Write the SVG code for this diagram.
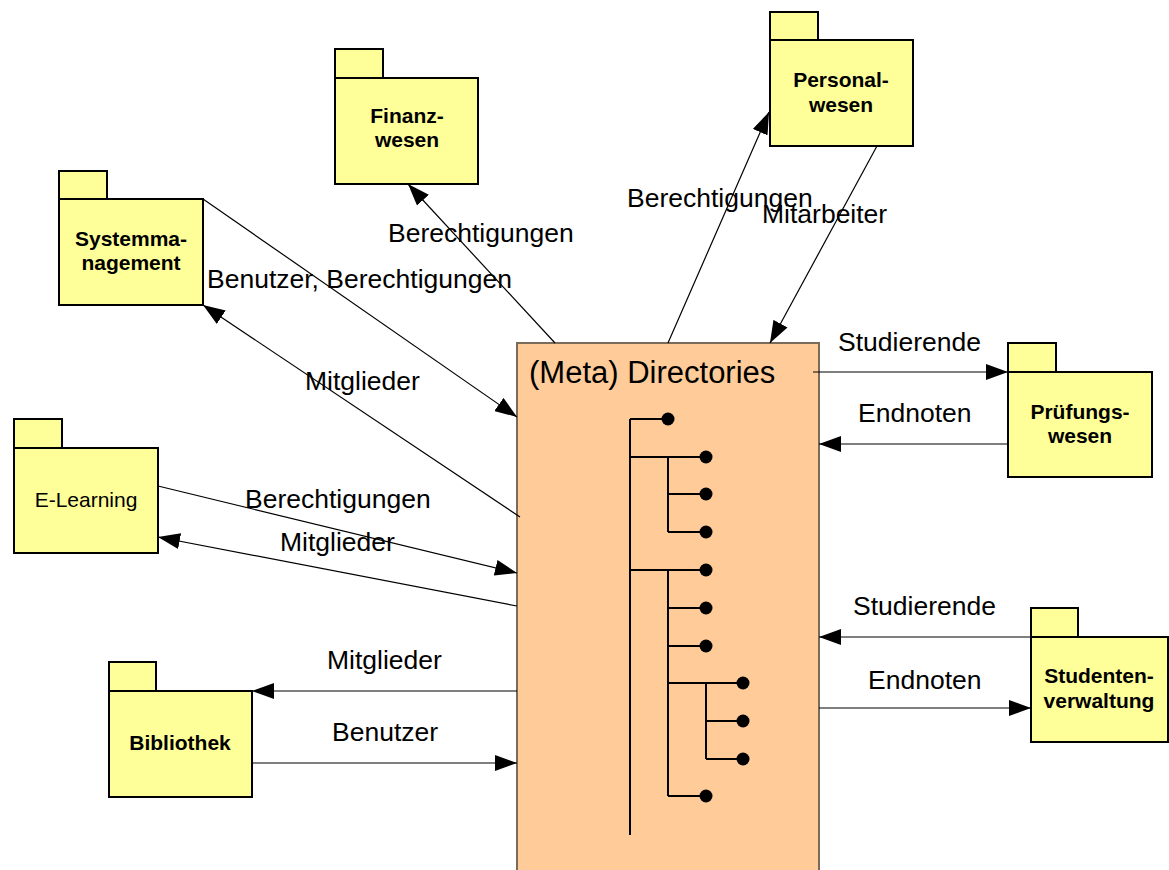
<svg xmlns="http://www.w3.org/2000/svg" width="1169" height="870" viewBox="0 0 1169 870">
  <style>
    .pkg rect { fill: #FFFF99; stroke: #000; stroke-width: 2; }
    .pkgname { font-family: "Liberation Sans", Arial, sans-serif; font-size: 21px; font-weight: bold; text-anchor: middle; fill: #000; }
    .pkgplain { font-family: "Liberation Sans", Arial, sans-serif; font-size: 21px; text-anchor: middle; fill: #000; }
    .flow { stroke: #000; stroke-width: 1.2; fill: none; marker-end: url(#arrow); }
    .lbl { font-family: "Liberation Sans", Arial, sans-serif; font-size: 26.5px; fill: #000; }
    .tree { stroke: #000; stroke-width: 2; fill: none; }
    .leaf { fill: #000; }
  </style>
  <defs>
    <marker id="arrow" viewBox="0 0 22 16" refX="22" refY="8" markerWidth="22" markerHeight="16" markerUnits="userSpaceOnUse" orient="auto">
      <path d="M0,0 L22,8 L0,16 z" fill="#000"/>
    </marker>
  </defs>
  <rect width="1169" height="870" fill="#fff"/>

  <!-- central directory service -->
  <g id="meta-directories">
    <rect x="517" y="343" width="302" height="540" fill="#FFCC99" stroke="#7a6a5a" stroke-width="2"/>
    <text x="529" y="383" font-family="Liberation Sans, Arial, sans-serif" font-size="31" fill="#000">(Meta) Directories</text>
    <g id="directory-tree">
      <path class="tree" d="M630,419 V835 M630,419 H668 M630,457 H706 M668,457 V532 M668,494 H706 M668,532 H706 M630,570 H706 M668,570 V796 M668,608 H706 M668,646 H706 M668,683 H743 M706,683 V759 M706,721 H743 M706,759 H743 M668,796 H706"/>
      <circle class="leaf" cx="668" cy="419" r="6.5"/>
      <circle class="leaf" cx="706" cy="457" r="6.5"/>
      <circle class="leaf" cx="706" cy="494" r="6.5"/>
      <circle class="leaf" cx="706" cy="532" r="6.5"/>
      <circle class="leaf" cx="706" cy="570" r="6.5"/>
      <circle class="leaf" cx="706" cy="608" r="6.5"/>
      <circle class="leaf" cx="706" cy="646" r="6.5"/>
      <circle class="leaf" cx="743" cy="683" r="6.5"/>
      <circle class="leaf" cx="743" cy="721" r="6.5"/>
      <circle class="leaf" cx="743" cy="759" r="6.5"/>
      <circle class="leaf" cx="706" cy="796" r="6.5"/>
    </g>
  </g>

  <!-- packages -->
  <g id="systemmanagement" class="pkg">
    <rect x="59" y="171" width="48" height="28"/>
    <rect x="59" y="199" width="144" height="106"/>
    <text class="pkgname" x="131" y="246">Systemma-</text>
    <text class="pkgname" x="131" y="270">nagement</text>
  </g>
  <g id="finanzwesen" class="pkg">
    <rect x="335" y="49" width="48" height="29"/>
    <rect x="335" y="78" width="143" height="106"/>
    <text class="pkgname" x="407" y="123">Finanz-</text>
    <text class="pkgname" x="407" y="147">wesen</text>
  </g>
  <g id="personalwesen" class="pkg">
    <rect x="770" y="12" width="48" height="28"/>
    <rect x="770" y="40" width="143" height="106"/>
    <text class="pkgname" x="841" y="87">Personal-</text>
    <text class="pkgname" x="841" y="112">wesen</text>
  </g>
  <g id="pruefungswesen" class="pkg">
    <rect x="1008" y="343" width="48" height="29"/>
    <rect x="1008" y="372" width="144" height="105"/>
    <text class="pkgname" x="1080" y="419">Prüfungs-</text>
    <text class="pkgname" x="1080" y="443">wesen</text>
  </g>
  <g id="studentenverwaltung" class="pkg">
    <rect x="1031" y="608" width="47" height="29"/>
    <rect x="1031" y="637" width="137" height="105"/>
    <text class="pkgname" x="1099" y="683">Studenten-</text>
    <text class="pkgname" x="1099" y="708">verwaltung</text>
  </g>
  <g id="e-learning" class="pkg">
    <rect x="14" y="419" width="48" height="29"/>
    <rect x="14" y="448" width="144" height="105"/>
    <text class="pkgplain" x="86" y="507">E-Learning</text>
  </g>
  <g id="bibliothek" class="pkg">
    <rect x="109" y="662" width="47" height="29"/>
    <rect x="109" y="691" width="143" height="106"/>
    <text class="pkgname" x="180" y="750">Bibliothek</text>
  </g>

  <!-- data flows -->
  <g id="connectors">
    <line class="flow" x1="203" y1="199" x2="517" y2="417"/>
    <line class="flow" x1="520" y1="517" x2="203" y2="305"/>
    <line class="flow" x1="555" y1="343" x2="408" y2="184"/>
    <line class="flow" x1="668" y1="343" x2="769" y2="112"/>
    <line class="flow" x1="877" y1="146" x2="770" y2="343"/>
    <line class="flow" x1="813" y1="372" x2="1008" y2="372"/>
    <line class="flow" x1="1008" y1="444" x2="819" y2="444"/>
    <line class="flow" x1="1031" y1="637" x2="819" y2="637"/>
    <line class="flow" x1="819" y1="708" x2="1031" y2="708"/>
    <line class="flow" x1="158" y1="486" x2="517" y2="573"/>
    <line class="flow" x1="517" y1="606" x2="158" y2="537"/>
    <line class="flow" x1="517" y1="691" x2="252" y2="691"/>
    <line class="flow" x1="252" y1="763" x2="517" y2="763"/>

    <text class="lbl" x="207" y="288">Benutzer, Berechtigungen</text>
    <text class="lbl" x="305" y="390">Mitglieder</text>
    <text class="lbl" x="388" y="242">Berechtigungen</text>
    <text class="lbl" x="627" y="207">Berechtigungen</text>
    <text class="lbl" x="762" y="223">Mitarbeiter</text>
    <text class="lbl" x="838" y="351">Studierende</text>
    <text class="lbl" x="858" y="422">Endnoten</text>
    <text class="lbl" x="853" y="615">Studierende</text>
    <text class="lbl" x="868" y="689">Endnoten</text>
    <text class="lbl" x="245" y="508">Berechtigungen</text>
    <text class="lbl" x="280" y="551">Mitglieder</text>
    <text class="lbl" x="327" y="669">Mitglieder</text>
    <text class="lbl" x="332" y="741">Benutzer</text>
  </g>
</svg>
